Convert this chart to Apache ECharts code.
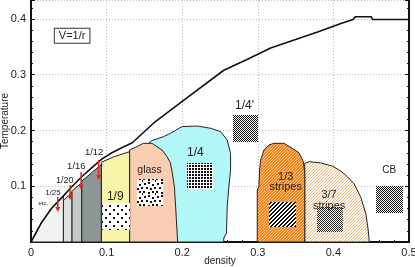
<!DOCTYPE html>
<html><head><meta charset="utf-8">
<script src="https://cdn.jsdelivr.net/npm/echarts/dist/echarts.min.js"></script>
<style>html,body{margin:0;padding:0;background:#fff}#c{width:415px;height:267px}</style>
</head><body><div id="c"></div>
<script>
// ---- data (density, temperature) ----
const xTickValues = [0, 0.1, 0.2, 0.3, 0.4, 0.5];
const yTickValues = [0.1, 0.2, 0.3, 0.4];
const boundaryDensity = [0, 0.014, 0.027, 0.041, 0.054, 0.067, 0.081, 0.094, 0.107, 0.120, 0.134, 0.162, 0.2, 0.255, 0.285, 0.317, 0.35, 0.38, 0.41, 0.426, 0.429, 0.45, 0.452, 0.5];
const boundaryTemp    = [0, 0.035, 0.06, 0.08, 0.099, 0.117, 0.134, 0.149, 0.16, 0.169, 0.178, 0.213, 0.252, 0.308, 0.327, 0.348, 0.363, 0.377, 0.392, 0.399, 0.404, 0.404, 0.399, 0.399];
const regionEtc   = [[0,0],[0.014,0.035],[0.027,0.06],[0.041,0.08],[0.0428,0.082],[0.0428,0]];
const region1_20  = [[0.0428,0],[0.0428,0.074],[0.054,0.089],[0.054,0]];
const region1_16  = [[0.054,0],[0.054,0.091],[0.067,0.106],[0.067,0]];
const region1_12  = [[0.067,0],[0.067,0.109],[0.08,0.124],[0.093,0.139],[0.093,0]];
const region1_9   = [[0.093,0],[0.093,0.143],[0.11,0.153],[0.1304,0.162],[0.1304,0]];
const regionGlass = [[0.1304,0],[0.1304,0.165],[0.14,0.171],[0.1485,0.177],[0.16,0.177],[0.1733,0.165],[0.18,0.153],[0.1844,0.142],[0.1866,0.126],[0.1897,0.099],[0.191,0.07],[0.1923,0.04],[0.194,0]];
const region1_4   = [[0.18,0],[0.17,0.14],[0.155,0.176],[0.16,0.182],[0.1755,0.189],[0.1844,0.195],[0.2,0.207],[0.22,0.208],[0.2374,0.204],[0.2507,0.198],[0.2595,0.183],[0.264,0.159],[0.264,0.129],[0.2617,0.099],[0.2595,0.063],[0.2586,0.016],[0.255,0.007],[0.255,0]];
const region1_3   = [[0.2993,0],[0.2993,0.0934],[0.3015,0.099],[0.3024,0.129],[0.3037,0.147],[0.3081,0.165],[0.3147,0.174],[0.3214,0.177],[0.3346,0.177],[0.3457,0.168],[0.3545,0.16],[0.3603,0.144],[0.3621,0.123],[0.3621,0]];
const region3_7   = [[0.3621,0],[0.3621,0.141],[0.3678,0.144],[0.383,0.142],[0.3988,0.136],[0.41,0.127],[0.4187,0.117],[0.4275,0.104],[0.4363,0.08],[0.443,0.05],[0.446,0.022],[0.4475,0]];
// configuration insets: [x0, yTop, x1, yBottom]
const inset1_9   = [0.0937,0.0695,0.1304,0.0215];
const insetGlass = [0.140,0.1126,0.1747,0.0646];
const inset1_4   = [0.2065,0.1413,0.241,0.0946];
const inset1_4p  = [0.2675,0.228,0.300,0.18];
const inset1_3   = [0.3147,0.0723,0.350,0.0275];
const inset3_7   = [0.378,0.063,0.412,0.0185];
const insetCB    = [0.456,0.101,0.4916,0.0533];

// ---- patterns ----
function pat(w, h, bg, fn){
  const c = document.createElement('canvas'); c.width = w; c.height = h;
  const g = c.getContext('2d'); g.fillStyle = bg; g.fillRect(0,0,w,h);
  fn(g); return {image: c, repeat: 'repeat'};
}
function px(g, col, list, s){ g.fillStyle = col; list.forEach(p => g.fillRect(p[0], p[1], s||1, s||1)); }
const hatch = (bg, fg) => pat(3,3,bg,g=>px(g,fg,[[0,2],[1,1],[2,0]]));
const fillOrange = hatch('#f5861a', '#fbc696');
const fill37 = hatch('#ffffff', '#f9b878');
const p19 = pat(8,8,'#fff',g=>px(g,'#111',[[1,1],[5,5]],2));
const pGlass = pat(13,13,'#fff',g=>px(g,'#111',[[1,1],[5,0],[9,2],[3,5],[7,6],[11,5],[0,9],[5,10],[9,9],[12,11]],2));
const p14 = pat(3,3,'#fff',g=>px(g,'#111',[[0,0]],2));
const p14p = pat(2,2,'#fff',g=>px(g,'#111',[[0,0],[1,1]],1));
const p13 = pat(4,4,'#fff',g=>{for(let x=0;x<4;x++)for(let y=0;y<4;y++) if((x+y)%4<2) px(g,'#111',[[x,y]]);});
const p37 = pat(2,2,'#fff',g=>px(g,'#222',[[0,0],[1,1]],1));
const pCB = pat(2,2,'#fff',g=>px(g,'#111',[[0,0],[1,1]],1));

const FONT = '"Liberation Sans", Arial, sans-serif';

function polygon(pts, fill, z){
  return {type:'custom', coordinateSystem:'cartesian2d', z: z, silent:true, data:[pts[0]],
    renderItem:(params, api)=>({type:'polygon', shape:{points: pts.map(p=>api.coord(p))},
      style:{fill: fill, stroke:'#222', lineWidth:1}})};
}
function inset(r, fill){
  return {type:'custom', coordinateSystem:'cartesian2d', z:6, silent:true, data:[[r[0],r[1]]],
    renderItem:(params, api)=>{const a=api.coord([r[0],r[1]]), b=api.coord([r[2],r[3]]);
      return {type:'rect', shape:{x:Math.round(a[0]), y:Math.round(a[1]), width:Math.round(b[0]-a[0]), height:Math.round(b[1]-a[1])}, style:{fill: fill}};}};
}
const labels = [
  {t:'1/9', p:[0.1114,0.0813], s:12},
  {t:'glass', p:[0.1569,0.1293], s:10.5},
  {t:'1/4', p:[0.2175,0.1603], s:12},
  {t:"1/4'", p:[0.2825,0.2442], s:12},
  {t:'1/3\nstripes', p:[0.3369,0.1077], s:11},
  {t:'3/7\nstripes', p:[0.3943,0.0745], s:11},
  {t:'CB', p:[0.4739,0.1293], s:10},
  {t:'1/12', p:[0.0835,0.160], s:9.5},
  {t:'1/16', p:[0.0600,0.135], s:9.5},
  {t:'1/20', p:[0.0445,0.111], s:9},
  {t:'1/25', p:[0.0290,0.0890], s:8},
  {t:'etc.', p:[0.0163,0.0695], s:6}
];
const arrows = [
  [0.0893,0.147,0.111],[0.0663,0.1257,0.0934],[0.0517,0.1023,0.0754],[0.0354,0.0808,0.0539]
];

const series = [
  polygon(region3_7, fill37, 2),
  polygon(region1_3, fillOrange, 2),
  polygon(region1_4, '#b2f7f7', 2),
  polygon(regionGlass, '#f9cdb1', 3),
  polygon(region1_9, '#f7f4a8', 3),
  polygon(region1_12, '#8e9695', 3),
  polygon(region1_16, '#c3c9c8', 3),
  polygon(region1_20, '#dde0e0', 3),
  polygon(regionEtc, '#f1f2f2', 3),
  {type:'line', z:5, silent:true, symbol:'none', data: boundaryDensity.map((d,i)=>[d, boundaryTemp[i]]),
   lineStyle:{color:'#111', width:1.6}},
  inset(inset1_9, p19), inset(insetGlass, pGlass), inset(inset1_4, p14), inset(inset1_4p, p14p),
  inset(inset1_3, p13), inset(inset3_7, p37), inset(insetCB, pCB),
  {type:'custom', coordinateSystem:'cartesian2d', z:7, silent:true, data: labels.map(l=>l.p),
   renderItem:(params, api)=>{const l = labels[params.dataIndex]; const c = api.coord(l.p);
     return {type:'text', x:c[0], y:c[1], style:{text:l.t, fontSize:l.s, fontFamily:FONT, fill:'#222', align:'center', verticalAlign:'middle', lineHeight: l.s*0.95}};}},
  {type:'custom', coordinateSystem:'cartesian2d', z:7, silent:true, data: arrows.map(a=>[a[0],a[1]]),
   renderItem:(params, api)=>{const a = arrows[params.dataIndex]; const p0 = api.coord([a[0],a[1]]), p1 = api.coord([a[0],a[2]]);
     return {type:'group', children:[
       {type:'line', shape:{x1:p0[0], y1:p0[1], x2:p1[0], y2:p1[1]-3}, style:{stroke:'#e5261f', lineWidth:1.5}},
       {type:'polygon', shape:{points:[[p1[0]-2.5,p1[1]-5],[p1[0]+2.5,p1[1]-5],[p1[0],p1[1]]]}, style:{fill:'#e5261f'}}]};}},
  {type:'custom', coordinateSystem:'cartesian2d', z:7, silent:true, data:[[0.0544,0.37]],
   renderItem:(params, api)=>{const c = api.coord([0.0544,0.37]);
     return {type:'text', x:c[0], y:c[1], style:{text:'V=1/r', fontSize:11, fontFamily:FONT, fill:'#222', align:'center', verticalAlign:'middle',
       backgroundColor:'#fff', borderColor:'#333', borderWidth:1, padding:[2,4,1,4]}};}}
];

const fmt = v => { const r = Math.round(v*10)/10; if (Math.abs(v - r) > 1e-6) return ''; return r === 0 ? '0' : String(r); };
const axisCommon = {
  axisLine:{show:true, lineStyle:{color:'#111', width:2}},
  axisTick:{show:true, inside:true, length:4, lineStyle:{color:'#111'}},
  minorTick:{show:true, splitNumber:5, length:2, lineStyle:{color:'#111'}},
  axisLabel:{fontSize:11, fontFamily:FONT, color:'#222', margin:5},
  nameTextStyle:{fontSize:10, fontFamily:FONT, color:'#222'},
  nameMoveOverlap:false
};
const chart = echarts.init(document.getElementById('c'), null, {renderer:'canvas'});
chart.setOption({
  animation:false,
  grid:{left:31, right:6, top:0, bottom:25, containLabel:false, outerBoundsMode:'none'},
  xAxis:[Object.assign({}, axisCommon, {type:'value', min:xTickValues[0], max:xTickValues[xTickValues.length-1], interval:0.1,
    name:'density', nameLocation:'middle', nameGap:14,
    axisLabel:Object.assign({}, axisCommon.axisLabel, {formatter: fmt, showMaxLabel:true}),
    splitLine:{show:true, lineStyle:{color:'#b8c4c4', type:[1,2], width:1}}})],
  yAxis:[Object.assign({}, axisCommon, {type:'value', min:0, max:0.434, interval:0.1,
    name:'Temperature', nameLocation:'middle', nameGap:21, nameRotate:90,
    axisLabel:Object.assign({}, axisCommon.axisLabel, {formatter: v => (v>0.001 && v<0.42 && yTickValues.some(t=>Math.abs(t-v)<1e-6)) ? fmt(v) : ''}),
    splitLine:{show:true, lineStyle:{color:'#b8c4c4', type:[1,2], width:1}}}),
    Object.assign({}, axisCommon, {type:'value', min:0, max:0.434, interval:0.1, position:'right',
    axisLabel:{show:false}, splitLine:{show:false}})],
  series: series
});
</script></body></html>
